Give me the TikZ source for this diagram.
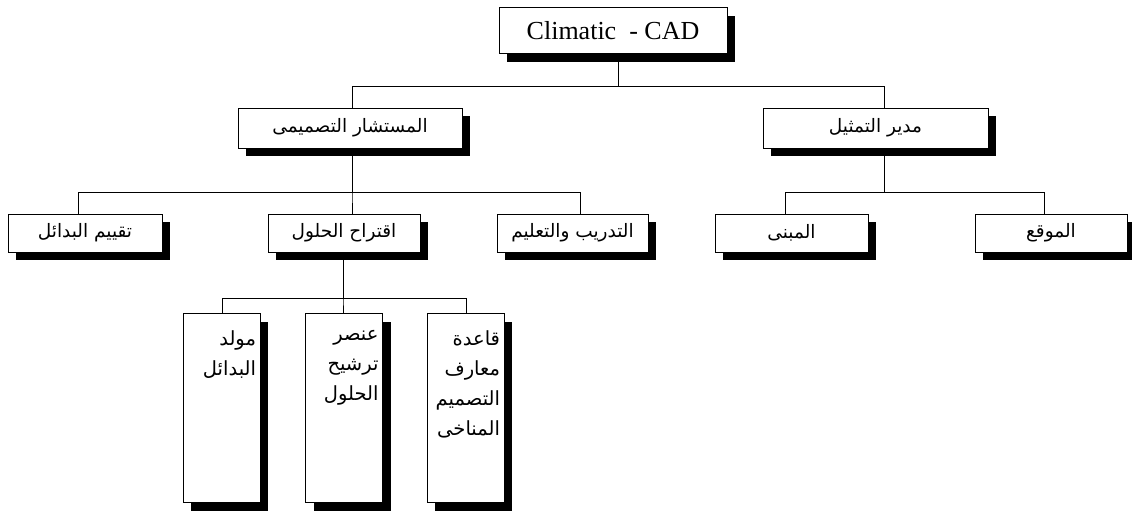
\documentclass[tikz,border=0pt]{standalone}
\usepackage{fontspec}
\setmainfont{Liberation Serif}
\newfontfamily\arabicfont[Script=Arabic]{DejaVu Sans}
\TeXXeTstate=1
\usetikzlibrary{shadows}
\tikzset{
  box/.style={draw, fill=white, line width=1pt, inner sep=0pt,
    drop shadow={shadow xshift=8pt, shadow yshift=-8pt, fill=black, opacity=1}},
  arfont/.style={font=\arabicfont\fontsize{18.5}{22}\selectfont},
  conn/.style={line width=1pt},
  midbox/.style={box, arfont, minimum width=224pt, minimum height=40pt},
  lvbox/.style={box, arfont, minimum width=152pt, minimum height=38pt},
  tallbox/.style={box, anchor=north, font=\arabicfont\fontsize{19.5}{30}\selectfont}
}
\newcommand{\AR}[1]{\beginR #1\endR}
\newcommand{\tallcontent}[1]{\parbox[t][189pt][t]{77pt}{\raggedleft\rightskip=4pt\relax\vspace*{17pt}#1}}
\begin{document}
\begin{tikzpicture}[x=1pt,y=-1pt]
\useasboundingbox (0,0) rectangle (1132,511);
% level 1
\node[box, minimum width=228pt, minimum height=46pt, font=\fontsize{26}{30}\selectfont] (top) at (613,31) {Climatic\ \ - CAD};
% level 2
\node[midbox] (ml) at (350,128) {\AR{المستشار التصميمى}};
\node[midbox, minimum width=225pt] (mr) at (875.5,128) {\AR{مدير التمثيل}};
% level 3
\node[lvbox, minimum width=154pt] (t1) at (85,233) {\AR{تقييم البدائل}};
\node[lvbox] (t2) at (344,233) {\AR{اقتراح الحلول}};
\node[lvbox, minimum width=151pt] (t3) at (572.5,233) {\AR{التدريب والتعليم}};
\node[lvbox, minimum width=153pt] (t4) at (791.5,233) {\AR{المبنى}};
\node[lvbox] (t5) at (1051,233) {\AR{الموقع}};
% level 4
\node[tallbox] (b1) at (221.5,313) {\tallcontent{\AR{مولد}\\\AR{البدائل}}};
\node[tallbox] (b2) at (344,313) {\tallcontent{\AR{عنصر}\\\AR{ترشيح}\\\AR{الحلول}}};
\node[tallbox] (b3) at (465.5,313) {\tallcontent{\AR{قاعدة}\\\AR{معارف}\\\AR{التصميم}\\\AR{المناخى}}};
% connectors
\draw[conn] ([xshift=5pt]top.south) -- ++(0,32) -| ([xshift=2pt]ml.north);
\draw[conn] ([xshift=5pt]top.south) -- ++(0,32) -| ([xshift=8.5pt]mr.north);
\draw[conn] ([xshift=2pt]ml.south) -- ++(0,44) -| ([xshift=-7pt]t1.north);
\draw[conn] ([xshift=2pt]ml.south) -- ++(0,44) -| ([xshift=8pt]t2.north);
\draw[conn] ([xshift=2pt]ml.south) -- ++(0,44) -| ([xshift=7.5pt]t3.north);
\draw[conn] ([xshift=8.5pt]mr.south) -- ++(0,44) -| ([xshift=-6.5pt]t4.north);
\draw[conn] ([xshift=8.5pt]mr.south) -- ++(0,44) -| ([xshift=-7pt]t5.north);
\draw[conn] ([xshift=-1pt]t2.south) -- ++(0,46) -| ([xshift=0.5pt]b1.north);
\draw[conn] ([xshift=-1pt]t2.south) -- ++(0,46) -| ([xshift=-1pt]b2.north);
\draw[conn] ([xshift=-1pt]t2.south) -- ++(0,46) -| ([xshift=0.5pt]b3.north);
\end{tikzpicture}
\end{document}
